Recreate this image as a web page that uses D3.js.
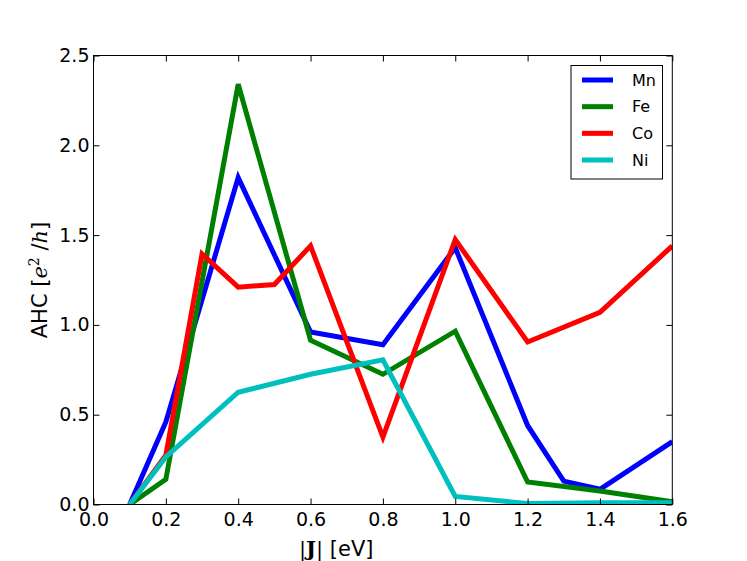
<!DOCTYPE html>
<html>
<head>
<meta charset="utf-8">
<script src="https://cdn.jsdelivr.net/npm/d3@7"></script>
<style>
  body { margin: 0; background: #fff; }
  text { font-family: "DejaVu Sans", sans-serif; }
</style>
</head>
<body>
<svg id="chart" width="747" height="561"></svg>
<script>
// values
var xTicks = [0.0, 0.2, 0.4, 0.6, 0.8, 1.0, 1.2, 1.4, 1.6];
var yTicks = [0.0, 0.5, 1.0, 1.5, 2.0, 2.5];

var mnX = [0.1, 0.2, 0.4, 0.6, 0.8, 1.0, 1.2, 1.3, 1.4, 1.6];
var mnY = [0.0, 0.46, 1.82, 0.96, 0.89, 1.43, 0.44, 0.13, 0.085, 0.35];

var feX = [0.1, 0.2, 0.4, 0.6, 0.8, 1.0, 1.2, 1.4, 1.6];
var feY = [0.0, 0.14, 2.34, 0.915, 0.725, 0.965, 0.125, 0.075, 0.015];

var coX = [0.1, 0.2, 0.3, 0.4, 0.5, 0.6, 0.8, 1.0, 1.2, 1.4, 1.6];
var coY = [0.0, 0.275, 1.395, 1.21, 1.225, 1.44, 0.375, 1.475, 0.905, 1.07, 1.44];

var niX = [0.1, 0.2, 0.4, 0.6, 0.8, 1.0, 1.2, 1.4, 1.6];
var niY = [0.0, 0.265, 0.625, 0.725, 0.805, 0.045, 0.005, 0.01, 0.01];

var names = ["Mn", "Fe", "Co", "Ni"];
var colors = ["#0000ff", "#008000", "#ff0000", "#00bfbf"];

var series = [
    { name: names[0], xs: mnX, ys: mnY, color: colors[0] },
    { name: names[1], xs: feX, ys: feY, color: colors[1] },
    { name: names[2], xs: coX, ys: coY, color: colors[2] },
    { name: names[3], xs: niX, ys: niY, color: colors[3] }
];

// plot box (note: "top" is reserved on window, so use px* names)
var pxLeft = 93.5, pxRight = 672.3, pxTop = 55.5, pxBottom = 504.5;

var svg = d3.select("#chart");

var x = d3.scaleLinear().domain([0, 1.6]).range([pxLeft, pxRight]);
var y = d3.scaleLinear().domain([0, 2.5]).range([pxBottom, pxTop]);

// clip lines to the plot box
svg.append("clipPath").attr("id", "plotclip")
    .append("rect")
    .attr("x", pxLeft).attr("y", pxTop)
    .attr("width", pxRight - pxLeft).attr("height", pxBottom - pxTop);

var line = d3.line()
    .x(function(d) { return x(d[0]); })
    .y(function(d) { return y(d[1]); });

svg.append("g").attr("clip-path", "url(#plotclip)")
    .selectAll("path")
    .data(series)
    .enter().append("path")
    .attr("d", function(s) { return line(d3.zip(s.xs, s.ys)); })
    .attr("fill", "none")
    .attr("stroke", function(s) { return s.color; })
    .attr("stroke-width", 5)
    .attr("stroke-linejoin", "miter")
    .attr("stroke-linecap", "butt");

// axes with inward ticks on all sides
var tickLen = 6;
function fmt(d) { return d.toFixed(1); }

var xb = svg.append("g").attr("transform", "translate(0," + pxBottom + ")")
    .call(d3.axisBottom(x).tickValues(xTicks).tickFormat(fmt).tickSizeInner(-tickLen).tickSizeOuter(0).tickPadding(8));
var xt = svg.append("g").attr("transform", "translate(0," + pxTop + ")")
    .call(d3.axisTop(x).tickValues(xTicks).tickFormat("").tickSizeInner(-tickLen).tickSizeOuter(0));
var yl = svg.append("g").attr("transform", "translate(" + pxLeft + ",0)")
    .call(d3.axisLeft(y).tickValues(yTicks).tickFormat(fmt).tickSizeInner(-tickLen).tickSizeOuter(0).tickPadding(4));
var yr = svg.append("g").attr("transform", "translate(" + pxRight + ",0)")
    .call(d3.axisRight(y).tickValues(yTicks).tickFormat("").tickSizeInner(-tickLen).tickSizeOuter(0));

[xb, xt, yl, yr].forEach(function(g) {
    g.select(".domain").remove();
    g.selectAll(".tick line").attr("stroke", "#000").attr("stroke-width", 1);
    g.selectAll("text").attr("fill", "#000").style("font-size", "19px").style("font-family", "DejaVu Sans");
});

svg.append("rect")
    .attr("x", pxLeft).attr("y", pxTop)
    .attr("width", pxRight - pxLeft).attr("height", pxBottom - pxTop)
    .attr("fill", "none").attr("stroke", "#000").attr("stroke-width", 1);

// axis labels
var xl = svg.append("text")
    .attr("x", 299).attr("y", 556)
    .style("font-size", "21px");
xl.append("tspan").style("font-family", "DejaVu Serif").text("|");
xl.append("tspan").style("font-family", "DejaVu Serif").style("font-weight", "bold").text("J");
xl.append("tspan").style("font-family", "DejaVu Serif").text("|");
xl.append("tspan").text(" [eV]");

var ylab = svg.append("text")
    .attr("transform", "translate(47," + ((pxTop + pxBottom) / 2) + ") rotate(-90)")
    .attr("text-anchor", "middle")
    .style("font-size", "21px");
ylab.append("tspan").text("AHC [");
ylab.append("tspan").style("font-family", "DejaVu Serif").style("font-style", "italic").text("e");
ylab.append("tspan").attr("dy", -8).style("font-family", "DejaVu Serif").style("font-size", "14px").text("2");
ylab.append("tspan").attr("dy", 8).text(" /");
ylab.append("tspan").style("font-family", "DejaVu Serif").style("font-style", "italic").text("h");
ylab.append("tspan").text("]");

// legend
var lg = svg.append("g");
lg.append("rect")
    .attr("x", 571).attr("y", 65.5)
    .attr("width", 91.5).attr("height", 113.5)
    .attr("fill", "#fff").attr("stroke", "#000").attr("stroke-width", 1);

var rowY = d3.scalePoint().domain(names).range([80, 160]);
var rows = lg.selectAll(".row").data(series).enter().append("g").attr("class", "row");
rows.append("line")
    .attr("x1", 582).attr("x2", 613)
    .attr("y1", function(s) { return rowY(s.name); })
    .attr("y2", function(s) { return rowY(s.name); })
    .attr("stroke", function(s) { return s.color; })
    .attr("stroke-width", 5);
rows.append("text")
    .attr("x", 632).attr("y", function(s) { return rowY(s.name) + 5.8; })
    .style("font-size", "16px")
    .text(function(s) { return s.name; });
</script>
</body>
</html>
